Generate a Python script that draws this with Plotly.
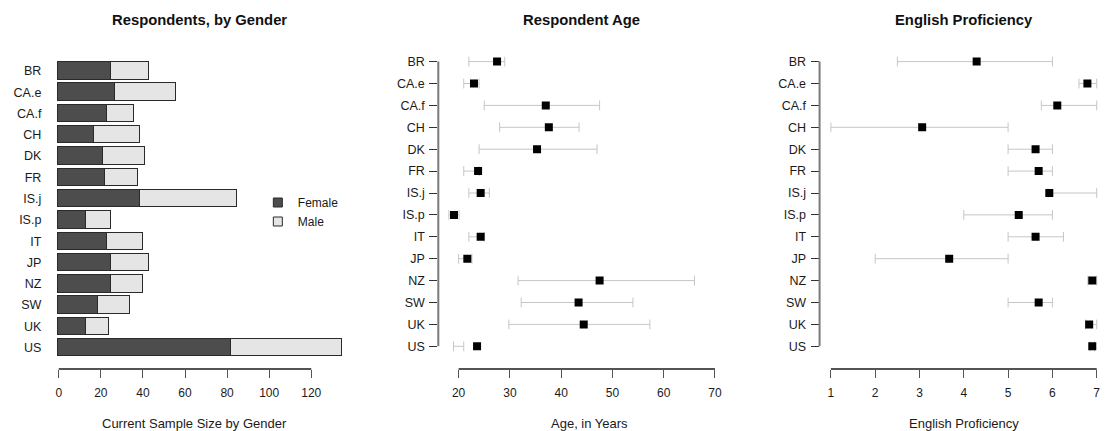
import plotly.graph_objects as go

# ---------------- data ----------------
countries = ["BR", "CA.e", "CA.f", "CH", "DK", "FR", "IS.j", "IS.p",
             "IT", "JP", "NZ", "SW", "UK", "US"]

female_n = [25, 27, 23, 17, 21, 22, 39, 13, 23, 25, 25, 19, 13, 82]
male_n = [18, 29, 13, 22, 20, 16, 46, 12, 17, 18, 15, 15, 11, 53]

age_mean = [27.5, 23.0, 37.0, 37.6, 35.3, 23.8, 24.3, 19.1, 24.3, 21.7, 47.5, 43.4, 44.4, 23.6]
age_low = [22.0, 21.0, 25.0, 28.0, 24.0, 21.0, 22.0, 18.1, 22.0, 20.0, 31.6, 32.2, 29.8, 19.0]
age_high = [29.0, 24.0, 47.5, 43.5, 47.0, 24.0, 26.0, 20.1, 25.0, 22.6, 66.0, 54.0, 57.3, 21.0]

eng_mean = [4.29, 6.79, 6.11, 3.06, 5.62, 5.69, 5.93, 5.24, 5.62, 3.67, 6.90, 5.69, 6.83, 6.90]
eng_low = [2.5, 6.6, 5.75, 1.0, 5.0, 5.0, 5.9, 4.0, 5.0, 2.0, 6.8, 5.0, 6.75, 6.85]
eng_high = [6.0, 7.0, 7.0, 5.0, 6.0, 6.0, 7.0, 6.0, 6.25, 5.0, 7.0, 6.0, 7.0, 6.95]

ticks_n = [0, 20, 40, 60, 80, 100, 120]
ticks_age = [20, 30, 40, 50, 60, 70]
ticks_eng = [1, 2, 3, 4, 5, 6, 7]

titles = ["Respondents, by Gender", "Respondent Age", "English Proficiency"]
xlabels = ["Current Sample Size by Gender", "Age, in Years", "English Proficiency"]

# ---------------- helpers ----------------
n = len(countries)
pos = [n - i for i in range(n)]  # BR at top, US at bottom

W, H = 1106, 431
FONT = "Liberation Sans, Arial, Helvetica, sans-serif"
ERR_COL = "#c6c6c6"
FEMALE_COL = "#4d4d4d"
MALE_COL = "#e5e5e5"

fig = go.Figure()

# panel 1: stacked bars
fig.add_trace(go.Bar(
    y=pos, x=female_n, orientation="h", name="Female", width=0.82,
    marker=dict(color=FEMALE_COL, line=dict(color="#2a2a2a", width=1)),
    xaxis="x", yaxis="y", hoverinfo="x+name", legendgroup="f", showlegend=False))
fig.add_trace(go.Bar(
    y=pos, x=male_n, orientation="h", name="Male", width=0.82,
    marker=dict(color=MALE_COL, line=dict(color="#2a2a2a", width=1)),
    xaxis="x", yaxis="y", hoverinfo="x+name", legendgroup="m", showlegend=False))
# legend keys (small squares, as in the original)
for nm, col, grp in (("Female", FEMALE_COL, "f"), ("Male", MALE_COL, "m")):
    fig.add_trace(go.Scatter(
        x=[None], y=[None], mode="markers", name=nm, legendgroup=grp,
        marker=dict(symbol="square", size=9, color=col,
                    line=dict(color="#2a2a2a", width=1)),
        xaxis="x", yaxis="y", hoverinfo="skip"))


def add_dot_panel(mean, low, high, xa, ya):
    lx, ly = [], []
    for lo, hi, p in zip(low, high, pos):
        lx += [lo, hi, None]
        ly += [p, p, None]
    fig.add_trace(go.Scatter(x=lx, y=ly, mode="lines",
                             line=dict(color=ERR_COL, width=1),
                             xaxis=xa, yaxis=ya, showlegend=False, hoverinfo="skip"))
    fig.add_trace(go.Scatter(x=low + high, y=pos + pos, mode="markers",
                             marker=dict(symbol="line-ns", size=7,
                                         line=dict(color=ERR_COL, width=1)),
                             xaxis=xa, yaxis=ya, showlegend=False, hoverinfo="skip"))
    fig.add_trace(go.Scatter(x=mean, y=pos, mode="markers",
                             marker=dict(symbol="square", size=8, color="black"),
                             xaxis=xa, yaxis=ya, showlegend=False,
                             text=countries, hoverinfo="x+text"))


add_dot_panel(age_mean, age_low, age_high, "x2", "y2")
add_dot_panel(eng_mean, eng_low, eng_high, "x3", "y3")

# ---------------- layout ----------------
ydom = [1 - 369 / H, 1 - 50 / H]
xtickfont = dict(family=FONT, size=12, color="#1a1a1a")
ytickfont = dict(family=FONT, size=12.5, color="#1a1a1a")


def xax(domain, rng, tv, anchor):
    return dict(domain=domain, range=rng, tickvals=tv, ticktext=[str(t) for t in tv],
                ticks="outside", ticklen=8, tickwidth=1, tickcolor="#555",
                showline=False, showgrid=False, zeroline=False,
                tickfont=xtickfont, anchor=anchor, ticklabelstandoff=5,
                fixedrange=True)


xa1 = xax([47.6 / W, 355.8 / W], [-5.4, 140.4], ticks_n, "y")
xa2 = xax([440.3 / W, 720 / W], [16.04, 70.35], ticks_age, "y2")
xa3 = xax([823.3 / W, 1.0], [0.744, 7.097], ticks_eng, "y3")

ya1 = dict(domain=ydom, range=[0, 14.98], tickvals=pos, ticktext=countries,
           ticks="", showline=False, showgrid=False, zeroline=False,
           tickfont=ytickfont, anchor="x", ticklabelstandoff=5)


def yax(anchor):
    return dict(domain=ydom, range=[-0.037, 14.53], tickvals=pos, ticktext=countries,
                ticks="outside", ticklen=8, tickwidth=1, tickcolor="#333",
                showline=False, showgrid=False, zeroline=False,
                tickfont=ytickfont, anchor=anchor, ticklabelstandoff=2)


shapes = []
for xr, tv in (("x", ticks_n), ("x2", ticks_age), ("x3", ticks_eng)):
    yr = "y" if xr == "x" else "y" + xr[1:]
    shapes.append(dict(type="line", xref=xr, yref=yr + " domain",
                       x0=min(tv), x1=max(tv), y0=0, y1=0,
                       line=dict(color="#1a1a1a", width=1.3)))
for xr, yr in (("x2", "y2"), ("x3", "y3")):
    shapes.append(dict(type="line", xref=xr + " domain", yref=yr,
                       x0=0, x1=0, y0=min(pos), y1=max(pos),
                       line=dict(color="#7a7a7a", width=2)))

title_x = [200.5, 584, 968]
xlabel_x = [195.5, 592, 968]
annotations = []
for t, xp in zip(titles, title_x):
    annotations.append(dict(text="<b>%s</b>" % t, x=xp / W, y=1 - 20 / H,
                            xref="paper", yref="paper", xanchor="center", yanchor="middle",
                            showarrow=False, font=dict(family=FONT, size=14.8, color="#111")))
for t, xp in zip(xlabels, xlabel_x):
    annotations.append(dict(text=t, x=xp / W, y=1 - 423 / H,
                            xref="paper", yref="paper", xanchor="center", yanchor="middle",
                            showarrow=False, font=dict(family=FONT, size=13, color="#1a1a1a")))

fig.update_layout(
    width=W, height=H,
    margin=dict(l=0, r=0, t=0, b=0),
    paper_bgcolor="white", plot_bgcolor="white",
    barmode="stack", bargap=0,
    xaxis=xa1, yaxis=ya1,
    xaxis2=xa2, yaxis2=yax("x2"),
    xaxis3=xa3, yaxis3=yax("x3"),
    shapes=shapes, annotations=annotations,
    showlegend=True,
    legend=dict(x=259 / W, y=1 - 188 / H, xanchor="left", yanchor="top",
                traceorder="normal", bgcolor="rgba(0,0,0,0)",
                font=dict(family=FONT, size=12, color="#1a1a1a"),
                itemwidth=30, tracegroupgap=0),
    font=dict(family=FONT),
)

fig.write_html("out.html")
